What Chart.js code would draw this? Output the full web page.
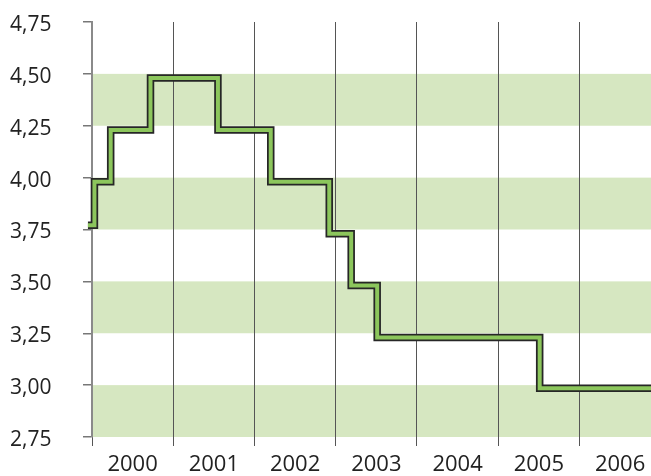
<!DOCTYPE html>
<html><head><meta charset="utf-8">
<script src="https://cdn.jsdelivr.net/npm/chart.js@4/dist/chart.umd.min.js"></script>
<style>html,body{margin:0;padding:0;background:#fff}#wrap{width:651px;height:476px;position:relative}</style>
</head><body><div id="wrap"><canvas id="c"></canvas></div>
<script>
// Step dates (fractional years) and rate levels
const stepDates = [1999.95, 2000.03, 2000.23, 2000.72, 2001.55, 2002.20, 2002.92, 2003.19, 2003.51, 2005.51, 2006.88];
const rates     = [3.77, 3.98, 4.23, 4.48, 4.23, 3.98, 3.73, 3.48, 3.23, 2.985, 2.985];
const yearTicks = [2000, 2001, 2002, 2003, 2004, 2005, 2006];
const rateTicks = [2.75, 3.00, 3.25, 3.50, 3.75, 4.00, 4.25, 4.50, 4.75];
const bandLows  = [2.75, 3.25, 3.75, 4.25];
const bandHighs = [3.00, 3.50, 4.00, 4.50];

const points = stepDates.map((d, i) => ({x: d, y: rates[i]}));

const bandPlugin = {
  id: 'bands',
  beforeDraw(chart) {
    const {ctx, chartArea, scales} = chart;
    ctx.save();
    ctx.fillStyle = '#d6e7c1';
    bandLows.forEach((lo, i) => {
      const yTop = scales.y.getPixelForValue(bandHighs[i]);
      const yBot = scales.y.getPixelForValue(lo);
      ctx.fillRect(chartArea.left, yTop, chartArea.right - chartArea.left, yBot - yTop);
    });
    ctx.restore();
  }
};

const fam = '"Open Sans", "DejaVu Sans", sans-serif';

new Chart(document.getElementById('c'), {
  type: 'line',
  data: {
    datasets: [
      {data: points, stepped: true, borderColor: '#8cc65c', borderWidth: 4, pointRadius: 0,
       borderJoinStyle: 'miter', borderCapStyle: 'butt', clip: false, fill: false, order: 0},
      {data: points, stepped: true, borderColor: '#262626', borderWidth: 7.5, pointRadius: 0,
       borderJoinStyle: 'miter', borderCapStyle: 'butt', clip: false, fill: false, order: 1}
    ]
  },
  options: {
    responsive: true,
    maintainAspectRatio: false,
    animation: false,
    events: [],
    layout: {padding: {left: 10, top: 22, right: 0, bottom: 0}},
    plugins: {legend: {display: false}, tooltip: {enabled: false}},
    scales: {
      x: {
        type: 'linear', min: 2000, max: 2006.88,
        afterBuildTicks: s => { s.ticks = yearTicks.map(v => ({value: v})); },
        afterFit: s => { s.height = 39; },
        border: {display: false},
        grid: {color: '#555', lineWidth: 1, drawTicks: true, tickLength: 9, tickColor: '#555'},
        ticks: {font: {family: fam, size: 22}, color: '#222', padding: 6, labelOffset: 40.6, maxRotation: 0,
                callback: v => String(v)}
      },
      y: {
        type: 'linear', min: 2.75, max: 4.75,
        afterBuildTicks: s => { s.ticks = rateTicks.map(v => ({value: v})); },
        afterFit: s => { s.width = 82; },
        border: {display: true, color: '#8a8a8a', width: 2},
        grid: {drawOnChartArea: false, drawTicks: true, tickLength: 9, tickColor: '#777', lineWidth: 1.5},
        ticks: {font: {family: fam, size: 21}, color: '#222', crossAlign: 'far', padding: 4, labelOffset: 3,
                callback: v => Number(v).toFixed(2).replace('.', ',')}
      }
    }
  },
  plugins: [bandPlugin]
});
</script>
</body></html>
